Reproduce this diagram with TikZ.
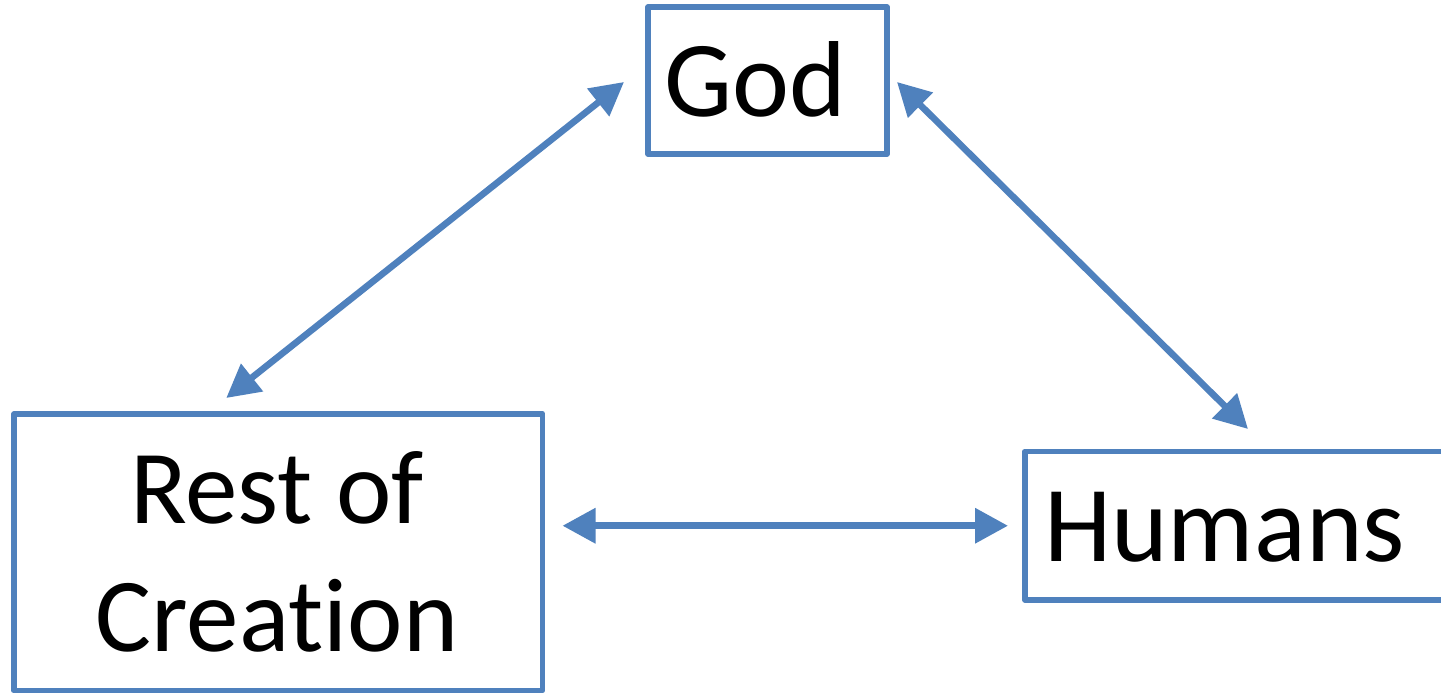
\documentclass[tikz,border=0pt]{standalone}
\usepackage{fontspec}
\setmainfont[Ligatures=NoCommon]{Carlito}
\usetikzlibrary{arrows.meta,calc}
\definecolor{accent}{HTML}{4F81BD}
\begin{document}
\begin{tikzpicture}[x=0.5pt,y=-0.5pt,
  box/.style={draw=accent,line width=2.85pt,line join=round,outer sep=0pt,inner sep=0pt,rectangle},
  lbl/.style={font=\fontsize{54}{64}\selectfont,inner sep=0pt,outer sep=0pt,anchor=base,text=black},
  conn/.style={draw=accent,line width=3.3pt,{Triangle[length=16.5pt,width=17pt]}-{Triangle[length=16.5pt,width=17pt]}}]
\useasboundingbox (0,0) rectangle (1441,694);
\clip (0,0) rectangle (1441,694);
\fill[white] (0,0) rectangle (1441,694);
\node[box,minimum width=119.5pt,minimum height=73.5pt] (god) at (767.5,80.5) {};
\node[box,minimum width=264.25pt,minimum height=138.25pt] (rest) at (278.25,552.25) {};
\node[box,minimum width=223pt,minimum height=74.25pt] (hum) at (1248,525.75) {};
\node[lbl] (godt) at (755,117) {God};
\node[lbl,align=center,font=\fontsize{52.5}{64}\selectfont] (restt) at (277,652) {Rest of\\Creation};
\node[lbl] (humt) at (1224.5,562) {Humans};
\coordinate (a1s) at ($(rest.north)+(-52,-16)$);
\coordinate (a1e) at ($(god.west)+(-24,1.5)$);
\coordinate (a2s) at ($(god.east)+(10,1.5)$);
\coordinate (a2e) at ($(hum.north)+(0,-22.5)$);
\coordinate (a3s) at ($(rest.east |- hum.west)+(20,0)$);
\coordinate (a3e) at ($(hum.west)+(-17,0)$);
\draw[conn] (a1s) -- (a1e);
\draw[conn] (a2s) -- (a2e);
\draw[conn] (a3s) -- (a3e);
\end{tikzpicture}
\end{document}
